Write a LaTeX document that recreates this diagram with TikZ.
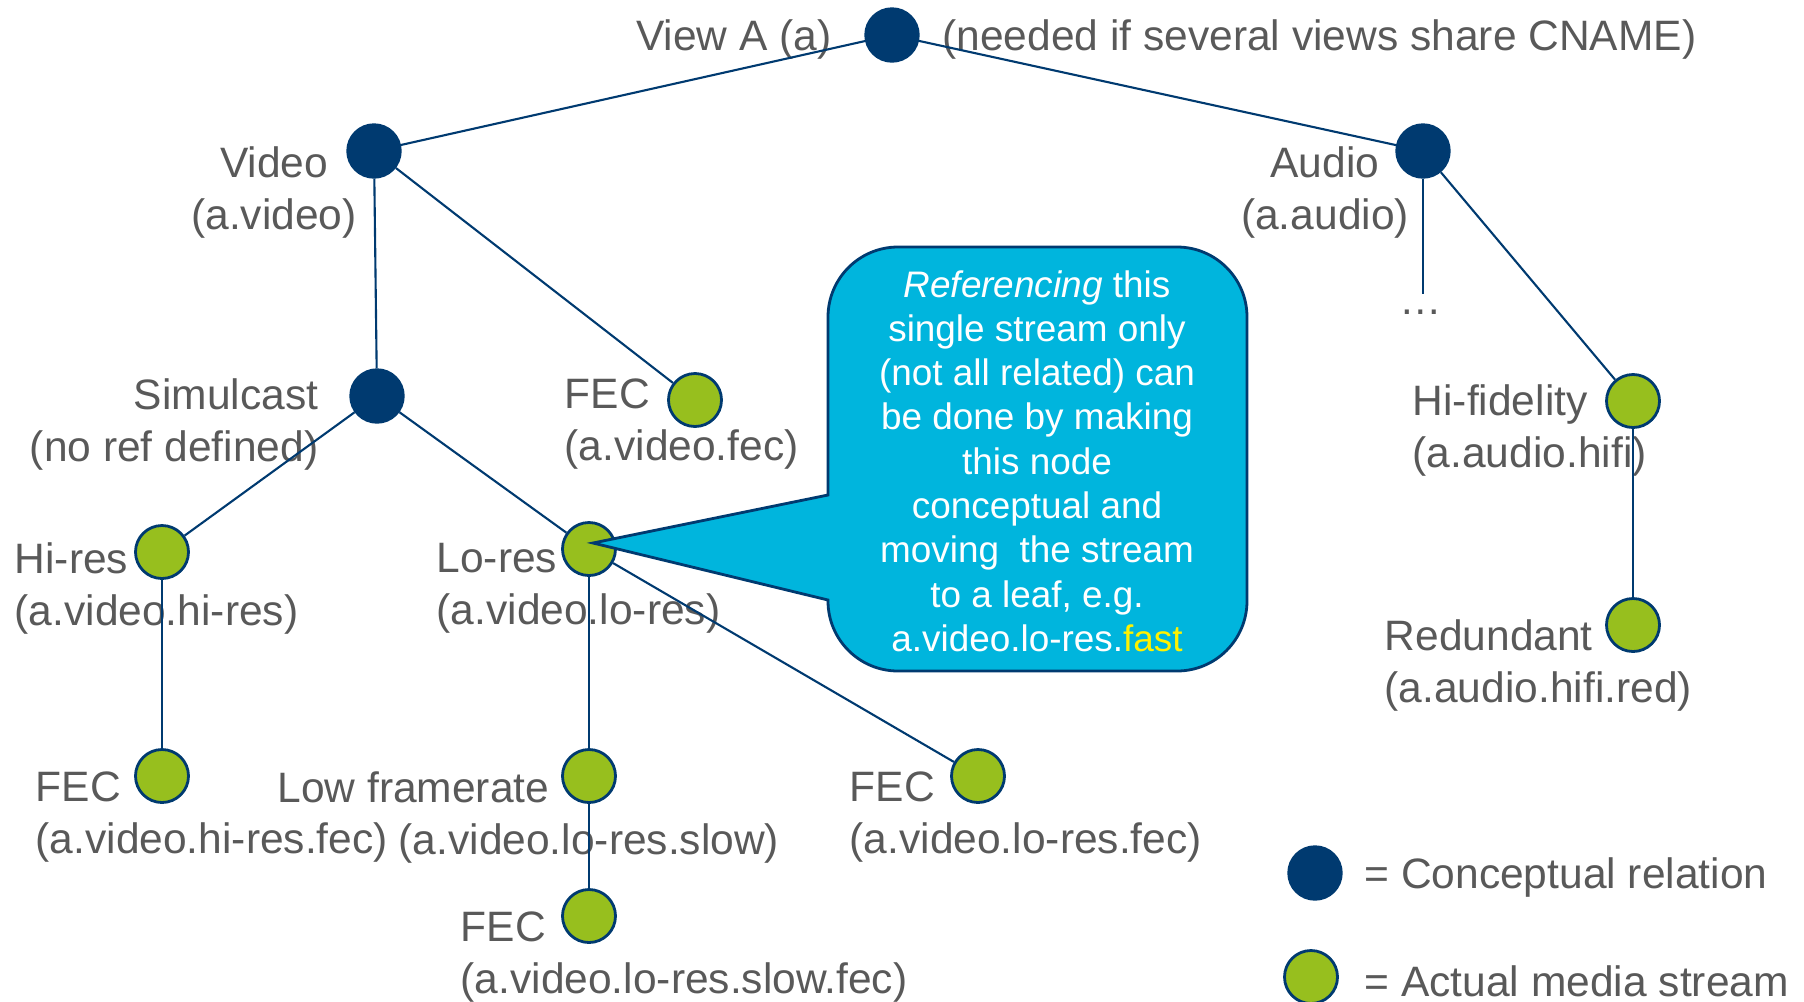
\documentclass[tikz,border=0pt]{standalone}
\usepackage{fontspec}
\setmainfont{Liberation Sans}
\usepackage{tikz}
\usetikzlibrary{positioning}
\definecolor{navy}{HTML}{003A70}
\definecolor{lime}{HTML}{97BF1E}
\definecolor{sky}{HTML}{00B5DD}
\definecolor{txtgray}{HTML}{595959}

\begin{document}
\begin{tikzpicture}[
	conc/.style={circle, fill=navy, draw=navy, minimum size=0.54cm, inner sep=0},
	media/.style={circle, fill=lime, draw=navy, line width=0.8pt, minimum size=0.53cm, inner sep=0},
	lbl/.style={text=txtgray, inner sep=0, yshift=-0.045cm, font=\fontsize{12.1}{14.8}\selectfont},
	link/.style={navy, line width=0.6pt}]
					\useasboundingbox (0,0) rectangle (18.04,-10.01);
					%Nodi
					\node[conc] (va) at (8.92,-0.35) {};
					\node[conc] (video) at (3.74,-1.51) {};
					\node[conc] (audio) at (14.23,-1.51) {};
					\node[conc] (simul) at (3.77,-3.96) {};
					\node[media] (vfec) at (6.95,-4.00) {};
					\node[media] (hires) at (1.62,-5.52) {};
					\node[media] (lores) at (5.89,-5.49) {};
					\node[media] (hifi) at (16.33,-4.01) {};
					\node[media] (red) at (16.33,-6.25) {};
					\node[media] (hfec) at (1.62,-7.76) {};
					\node[media] (slow) at (5.89,-7.76) {};
					\node[media] (lfec) at (9.78,-7.76) {};
					\node[media] (sfec) at (5.89,-9.16) {};
					\coordinate (aend) at (14.23,-2.94);
					\node[lbl] (adots) at (14.21,-3.08) {…};
					%Etichette
					\node[lbl, left=0.32cm of va] (vatxt) {View A (a)};
					\node[lbl, right=0.22cm of va] (needtxt) {(needed if several views share CNAME)};
					\node[lbl, align=center] (videotxt) at (2.74,-1.88) {Video\\(a.video)};
					\node[lbl, align=center] (audiotxt) at (13.25,-1.88) {Audio\\(a.audio)};
					\node[lbl, align=right, anchor=east] (simultxt) at (3.19,-4.20) {Simulcast\\(no ref defined)};
					\node[lbl, align=left, anchor=west] (vfectxt) at (5.64,-4.20) {FEC\\(a.video.fec)};
					\node[lbl, align=left, anchor=west] (hirestxt) at (0.14,-5.84) {Hi-res\\(a.video.hi-res)};
					\node[lbl, align=left, anchor=west] (lorestxt) at (4.36,-5.84) {Lo-res\\(a.video.lo-res)};
					\node[lbl, align=left, anchor=west] (hifitxt) at (14.12,-4.26) {Hi-fidelity\\(a.audio.hifi)};
					\node[lbl, align=left, anchor=west] (redtxt) at (13.84,-6.61) {Redundant\\(a.audio.hifi.red)};
					\node[lbl, align=left, anchor=west] (hfectxt) at (0.35,-8.13) {FEC\\(a.video.hi-res.fec)};
					\node[lbl, anchor=east] (slowtxt) at (5.50,-7.83) {Low framerate};
					\node[lbl, anchor=west] (slowref) at (3.98,-8.39) {(a.video.lo-res.slow)};
					\node[lbl, align=left, anchor=west] (lfectxt) at (8.49,-8.13) {FEC\\(a.video.lo-res.fec)};
					\node[lbl, align=left, anchor=west] (sfectxt) at (4.60,-9.53) {FEC\\(a.video.lo-res.slow.fec)};
					%Collegamenti
					\draw[link] (va) -- (video);
					\draw[link] (va) -- (audio);
					\draw[link] (video) -- (simul);
					\draw[link] (video) -- (vfec);
					\draw[link] (simul) -- (hires);
					\draw[link] (simul) -- (lores);
					\draw[link] (hires) -- (hfec);
					\draw[link] (lores) -- (slow);
					\draw[link] (slow) -- (sfec);
					\draw[link] (lores) -- (lfec);
					\draw[link] (audio) -- (aend);
					\draw[link] (audio) -- (hifi);
					\draw[link] (hifi) -- (red);
					%Fumetto
					\draw[navy, line width=0.8pt, fill=sky] (8.28,-6.00) -- (5.93,-5.43) -- (8.28,-4.95) -- (8.28,-3.17)
						arc[start angle=180, end angle=90, radius=0.7] -- (11.77,-2.47)
						arc[start angle=90, end angle=0, radius=0.7] -- (12.47,-6.01)
						arc[start angle=0, end angle=-90, radius=0.7] -- (8.98,-6.71)
						arc[start angle=270, end angle=180, radius=0.7] -- cycle;
					\node[text=white, align=center, inner sep=0, font=\fontsize{10.5}{12.6}\selectfont] (note) at (10.37,-4.61)
						{\textit{Referencing} this\\single stream only\\(not all related) can\\be done by making\\this node\\conceptual and\\moving~ the stream\\to a leaf, e.g.\\a.video.lo-res.\textcolor{yellow}{fast}};
					%Legenda
					\node[conc] (legc) at (13.15,-8.73) {};
					\node[media] (legm) at (13.11,-9.77) {};
					\node[lbl, right=0.21cm of legc] (legctxt) {= Conceptual relation};
					\node[lbl, right=0.25cm of legm] (legmtxt) {= Actual media stream};
\end{tikzpicture}
\end{document}
